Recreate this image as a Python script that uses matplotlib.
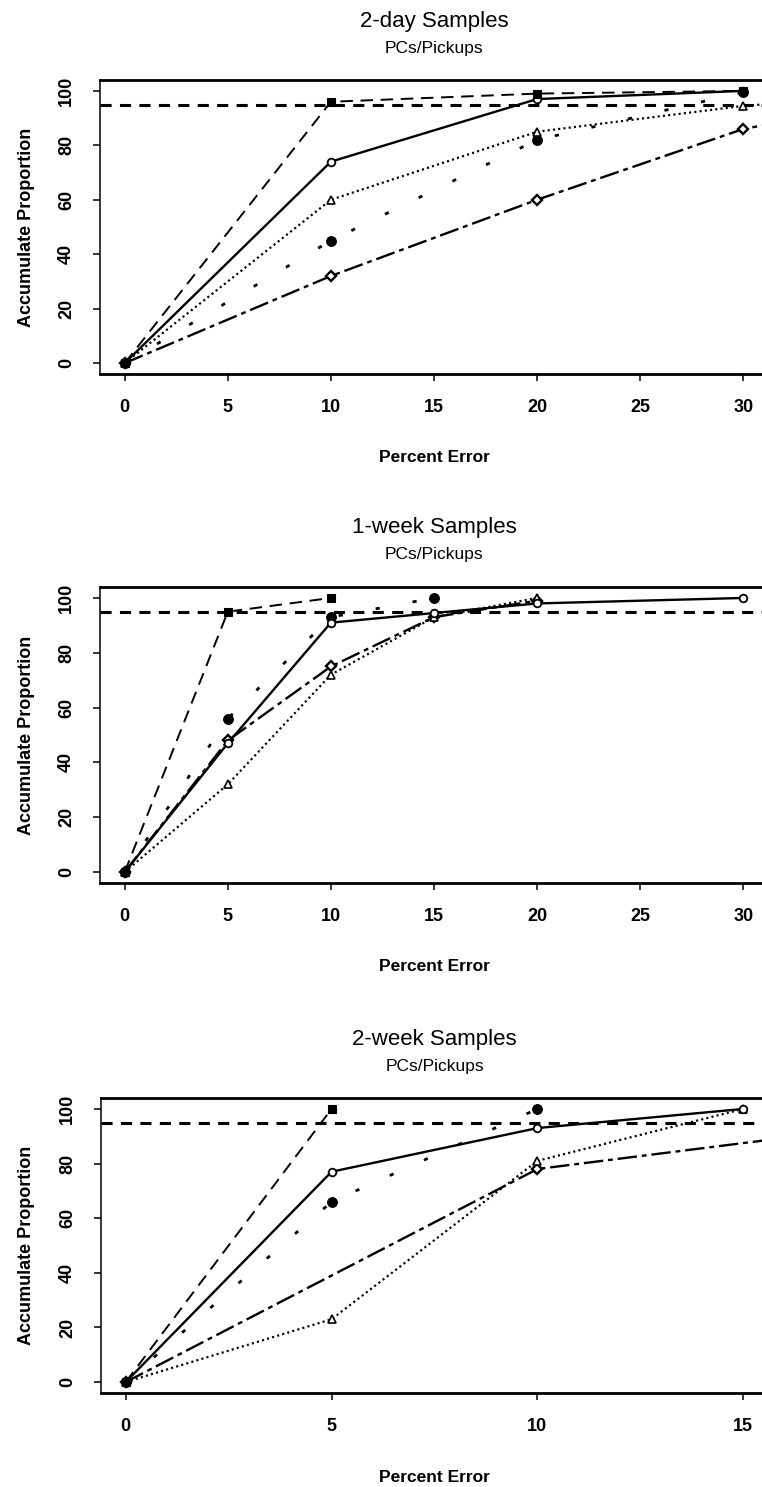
import matplotlib
matplotlib.use("Agg")
import matplotlib.pyplot as plt

plt.rcParams['font.family'] = ['Liberation Sans', 'DejaVu Sans']
plt.rcParams['lines.scale_dashes'] = False

# ---------------------------------------------------------------- data
titles = ["2-day Samples", "1-week Samples", "2-week Samples"]
subtitle = "PCs/Pickups"
x_label = "Percent Error"
y_label = "Accumulate Proportion"
y_ticks = [0, 20, 40, 60, 80, 100]
x_ticks_wide = [0, 5, 10, 15, 20, 25, 30]
x_ticks_narrow = [0, 5, 10, 15]
target_level = 95

# 2-day samples
day2_circle_x = [0, 10, 20, 30]
day2_circle_y = [0, 74, 97, 100]
day2_square_x = [0, 10, 20, 30]
day2_square_y = [0, 96, 99, 100]
day2_triangle_x = [0, 10, 20, 30, 40]
day2_triangle_y = [0, 60, 85, 94.5, 100]
day2_dot_x = [0, 10, 20, 30]
day2_dot_y = [0, 45, 82, 99.5]
day2_diamond_x = [0, 10, 20, 30, 40]
day2_diamond_y = [0, 32, 60, 86, 100]

# 1-week samples
week1_circle_x = [0, 5, 10, 15, 20, 30]
week1_circle_y = [0, 47, 91, 94.5, 98, 100]
week1_square_x = [0, 5, 10]
week1_square_y = [0, 95, 100]
week1_triangle_x = [0, 5, 10, 15, 20]
week1_triangle_y = [0, 32, 72, 93, 100]
week1_dot_x = [0, 5, 10, 15]
week1_dot_y = [0, 56, 93, 100]
week1_diamond_x = [0, 5, 10, 15, 20]
week1_diamond_y = [0, 48, 75, 93, 99]

# 2-week samples
week2_circle_x = [0, 5, 10, 15]
week2_circle_y = [0, 77, 93, 100]
week2_square_x = [0, 5]
week2_square_y = [0, 100]
week2_triangle_x = [0, 5, 10, 15]
week2_triangle_y = [0, 23, 81, 100]
week2_dot_x = [0, 5, 10]
week2_dot_y = [0, 66, 100]
week2_diamond_x = [0, 10, 20]
week2_diamond_y = [0, 78, 97]

# ---------------------------------------------------------------- styles
W, H, DPI = 762, 1487, 100

STYLES = {
    "circle":   dict(ls="-", lw=1.7, marker="o", ms=5.5, mfc="white", mew=1.3),
    "square":   dict(ls=(0, (9.0, 5.5)), lw=1.4, marker="s", ms=6.0, mfc="black", mew=0.8),
    "triangle": dict(ls=(0, (1.5, 2.3)), lw=1.6, marker="^", ms=5.5, mfc="white", mew=1.2),
    "dot":      dict(ls=(0, (3.0, 24.0)), lw=2.0, marker="o", ms=7.0, mfc="black", mew=0.8),
    "diamond":  dict(ls=(0, (14.0, 3.5, 3.5, 3.5)), lw=1.7, marker="D", ms=5.0, mfc="white", mew=1.7),
}

panels = [
    dict(title=titles[0], box=(100, 80, 768, 374), xlim=(-1.2, 31.2), xticks=x_ticks_wide,
         series=[("diamond", day2_diamond_x, day2_diamond_y),
                 ("dot", day2_dot_x, day2_dot_y),
                 ("triangle", day2_triangle_x, day2_triangle_y),
                 ("circle", day2_circle_x, day2_circle_y),
                 ("square", day2_square_x, day2_square_y)]),
    dict(title=titles[1], box=(100, 587, 768, 883), xlim=(-1.2, 31.2), xticks=x_ticks_wide,
         series=[("diamond", week1_diamond_x, week1_diamond_y),
                 ("dot", week1_dot_x, week1_dot_y),
                 ("triangle", week1_triangle_x, week1_triangle_y),
                 ("circle", week1_circle_x, week1_circle_y),
                 ("square", week1_square_x, week1_square_y)]),
    dict(title=titles[2], box=(101, 1098, 768, 1393), xlim=(-0.6, 15.6), xticks=x_ticks_narrow,
         series=[("diamond", week2_diamond_x, week2_diamond_y),
                 ("dot", week2_dot_x, week2_dot_y),
                 ("triangle", week2_triangle_x, week2_triangle_y),
                 ("circle", week2_circle_x, week2_circle_y),
                 ("square", week2_square_x, week2_square_y)]),
]

fig = plt.figure(figsize=(W / DPI, H / DPI), dpi=DPI)
fig.patch.set_facecolor("white")

for p in panels:
    left, top, right, bottom = p["box"]
    ax = fig.add_axes([left / W, 1 - bottom / H, (right - left) / W, (bottom - top) / H])
    h_px = bottom - top

    ax.axhline(target_level, color="black", lw=2.2, ls=(0, (8.0, 6.0)), zorder=2)
    for kind, xs, ys in p["series"]:
        st = STYLES[kind]
        ax.plot(xs, ys, color="black", mec="black", linestyle=st["ls"], lw=st["lw"],
                marker=st["marker"], ms=st["ms"], mfc=st["mfc"], mew=st["mew"],
                dash_capstyle="butt", zorder=3)

    ax.set_xlim(*p["xlim"])
    ax.set_ylim(-4, 104)
    ax.set_xticks(p["xticks"])
    ax.set_yticks(y_ticks)
    ax.tick_params(direction="out", length=5, width=1.1, pad=13,
                   labelsize=13, colors="black")
    ax.tick_params(axis="y", labelrotation=90)
    for lbl in ax.get_xticklabels() + ax.get_yticklabels():
        lbl.set_fontweight("bold")
    for lbl in ax.get_yticklabels():
        lbl.set_va("center")

    for side in ("top", "bottom"):
        ax.spines[side].set_linewidth(2.0)
    ax.spines["left"].set_linewidth(1.1)
    ax.spines["right"].set_linewidth(1.1)

    ax.set_xlabel(x_label, fontsize=12.5, fontweight="bold", va="center")
    ax.xaxis.set_label_coords(0.5, -84 / h_px)
    ax.set_ylabel(y_label, fontsize=13, fontweight="bold", va="center")
    ax.yaxis.set_label_coords((27 - left) / (right - left), 0.5)

    ax.text(0.5, 1 + 59 / h_px, p["title"], transform=ax.transAxes,
            ha="center", va="center", fontsize=16)
    ax.text(0.5, 1 + 32 / h_px, subtitle, transform=ax.transAxes,
            ha="center", va="center", fontsize=12.5)

fig.savefig("out.png", dpi=DPI, facecolor="white")
